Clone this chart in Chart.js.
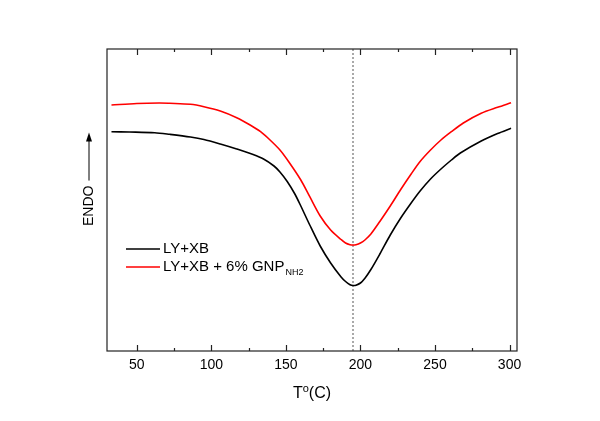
<!DOCTYPE html>
<html><head><meta charset="utf-8">
<script src="https://cdn.jsdelivr.net/npm/chart.js@4.4.1/dist/chart.umd.min.js"></script>
<style>html,body{margin:0;padding:0;background:#fff}#wrap{width:600px;height:421px;position:relative}</style>
</head><body><div id="wrap"><canvas id="c"></canvas></div>
<script>
// Temperature (°C) and heat flow (arbitrary units, ENDO up)
const tempBlack = [33,45,62,72,86,95,106,117,128,135,142,146,151,156,160,166,173,180,187,190,193,195,197,200,203,207,213,220,227,234,240,247,254,261,267,281,292,301];
const heatBlack = [219.3,219,218.3,216.7,214,211.5,207,202,196.5,192,185,179,169.3,157,145,126,105,88,74,69.5,66.3,65.5,65.8,68,72.8,81.5,97,116,133,148,160,172,182,191,198,210,217.5,222.7];
const tempRed = [33,50,65,72,86,95,106,117,126,133,139,146,152,160,166,173,180,187,190,193,195,197,200,203,207,213,220,227,234,240,247,254,261,269,281,292,301];
const heatRed = [246,247.5,248,247.7,246.7,244.3,240,233.3,226,219.3,211.5,201,189,171,154.3,135,121,111.5,108,106.3,106,106.3,108,111,117,129.5,145,161.5,177,189.5,201,211,219.3,228,237.7,243.7,248.3];
const peakTemp = 195;
const xMajorTicks = [50,100,150,200,250,300];
const xMinorTicks = [75,125,175,225,275];
const seriesNames = ['LY+XB', 'LY+XB + 6% GNP'];
const seriesSub = ['', 'NH2'];
const xRange = [30, 305];
const yRange = [0, 302];

const FONT = "'Liberation Sans', Arial, Helvetica, sans-serif";
Chart.defaults.font.family = FONT;
Chart.defaults.color = '#000';

const toXY = (xs, ys) => xs.map((x, i) => ({x, y: ys[i]}));

const decor = {
  id: 'decor',
  afterDraw(chart) {
    const {ctx, chartArea: a, scales: {x}} = chart;
    ctx.save();
    ctx.strokeStyle = '#222';
    ctx.lineWidth = 1.2;
    ctx.strokeRect(a.left, a.top, a.right - a.left, a.bottom - a.top);
    ctx.beginPath();
    const tick = (v, len) => {
      const p = Math.round(x.getPixelForValue(v)) + 0.5;
      ctx.moveTo(p, a.bottom); ctx.lineTo(p, a.bottom - len);
      ctx.moveTo(p, a.top); ctx.lineTo(p, a.top + len);
    };
    xMajorTicks.forEach(v => tick(v, 6));
    xMinorTicks.forEach(v => tick(v, 3));
    ctx.stroke();

    // x title with superscript o
    const cx = (a.left + a.right) / 2;
    const by = a.bottom + 47;
    ctx.fillStyle = '#000';
    ctx.textBaseline = 'alphabetic';
    ctx.textAlign = 'left';
    const big = '16px ' + FONT, small = '11px ' + FONT;
    ctx.font = big; const wT = ctx.measureText('T').width; const wC = ctx.measureText('(C)').width;
    ctx.font = small; const wo = ctx.measureText('o').width;
    let sx = cx - (wT + wo + wC) / 2;
    ctx.font = big; ctx.fillText('T', sx, by); sx += wT;
    ctx.font = small; ctx.fillText('o', sx, by - 6); sx += wo;
    ctx.font = big; ctx.fillText('(C)', sx, by);

    // y title: ENDO with arrow
    ctx.save();
    ctx.translate(a.left - 18, a.top + 177);
    ctx.rotate(-Math.PI / 2);
    ctx.font = '14px ' + FONT;
    ctx.textBaseline = 'middle';
    ctx.fillText('ENDO', 0, 0);
    const w = ctx.measureText('ENDO').width;
    ctx.beginPath();
    ctx.lineWidth = 1;
    ctx.strokeStyle = '#000';
    ctx.moveTo(w + 5, 0); ctx.lineTo(w + 45, 0);
    ctx.stroke();
    ctx.beginPath();
    ctx.moveTo(w + 53, 0); ctx.lineTo(w + 44, -3); ctx.lineTo(w + 44, 3); ctx.closePath();
    ctx.fillStyle = '#000';
    ctx.fill();
    ctx.restore();

    // legend
    const colors = ['#000000', '#ff0000'];
    const ly = [a.top + 200, a.top + 218];
    ctx.textBaseline = 'middle';
    for (let i = 0; i < 2; i++) {
      ctx.beginPath();
      ctx.strokeStyle = colors[i];
      ctx.lineWidth = 1.5;
      ctx.moveTo(a.left + 19, ly[i]); ctx.lineTo(a.left + 53, ly[i]);
      ctx.stroke();
      ctx.fillStyle = '#000';
      ctx.font = '15px ' + FONT;
      ctx.fillText(seriesNames[i], a.left + 56, ly[i]);
      if (seriesSub[i]) {
        const tw = ctx.measureText(seriesNames[i]).width;
        ctx.font = '9px ' + FONT;
        ctx.fillText(seriesSub[i], a.left + 57 + tw, ly[i] + 6);
      }
    }
    ctx.restore();
  }
};

new Chart(document.getElementById('c'), {
  type: 'scatter',
  data: {
    datasets: [
      {label: seriesNames[0], data: toXY(tempBlack, heatBlack), showLine: true, borderColor: '#000', borderWidth: 1.6, pointRadius: 0, tension: 0.3},
      {label: seriesNames[1] + seriesSub[1], data: toXY(tempRed, heatRed), showLine: true, borderColor: '#ff0000', borderWidth: 1.6, pointRadius: 0, tension: 0.3},
      {label: 'peak', data: [{x: peakTemp, y: yRange[0]}, {x: peakTemp, y: yRange[1]}], showLine: true, borderColor: '#555', borderWidth: 1, borderDash: [2, 2], pointRadius: 0}
    ]
  },
  options: {
    responsive: true,
    maintainAspectRatio: false,
    animation: false,
    events: [],
    layout: {padding: {left: 0, top: 49, right: 83, bottom: 0}},
    plugins: {legend: {display: false}, tooltip: {enabled: false}},
    scales: {
      x: {
        type: 'linear', min: xRange[0], max: xRange[1],
        grid: {display: false, drawTicks: false},
        border: {display: false},
        ticks: {font: {size: 14}, color: '#000', padding: 6, autoSkip: false, maxRotation: 0},
        afterBuildTicks: s => { s.ticks = xMajorTicks.map(v => ({value: v})); },
        afterFit: s => { s.height = 70; }
      },
      y: {
        type: 'linear', min: yRange[0], max: yRange[1],
        grid: {display: false, drawTicks: false},
        border: {display: false},
        ticks: {display: false},
        afterFit: s => { s.width = 107; }
      }
    }
  },
  plugins: [decor]
});
</script>
</body></html>
